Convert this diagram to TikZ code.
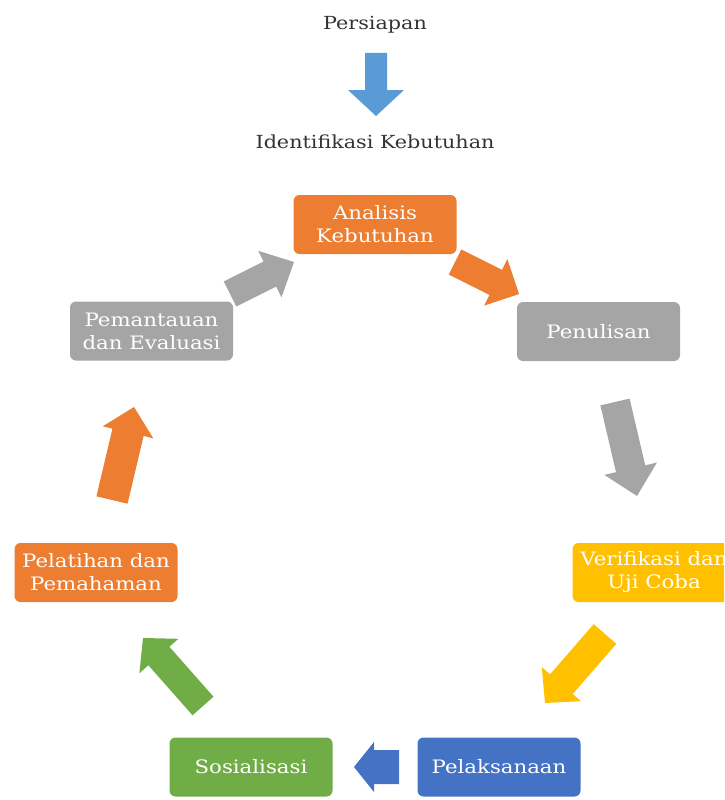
\documentclass[tikz,border=0pt]{standalone}
\usepackage{fontspec}
\setmainfont{DejaVu Serif}
\newfontfamily\boxfont[FakeStretch=1.15]{DejaVu Serif}
\usetikzlibrary{calc}
\definecolor{corange}{HTML}{ED7D31}
\definecolor{cgray}{HTML}{A5A5A5}
\definecolor{cyellow}{HTML}{FFC000}
\definecolor{cblue}{HTML}{4472C4}
\definecolor{cgreen}{HTML}{70AD47}
\definecolor{clblue}{HTML}{5B9BD5}
\definecolor{ctext}{HTML}{333333}
% #1 colour, #2 tail, #3 tip, #4 half shaft, #5 half head, #6 head length
\newcommand{\blkarrow}[6]{%
  \coordinate (hb) at ($(#3)!#6!(#2)$);
  \fill[#1] ($(#2)!#4!90:(#3)$) -- ($(hb)!#4!90:(#3)$) -- ($(hb)!#5!90:(#3)$) -- (#3)
    -- ($(hb)!#5!-90:(#3)$) -- ($(hb)!#4!-90:(#3)$) -- ($(#2)!#4!-90:(#3)$) -- cycle;}
\begin{document}
\begin{tikzpicture}[x=1pt,y=-1pt,
  box/.style={rounded corners=6pt, minimum width=163pt, minimum height=59pt, inner sep=0pt,
    align=center, text=white, font=\boxfont\fontsize{18.5}{23}\selectfont},
  toplabel/.style={text=ctext, font=\boxfont\fontsize{18}{22}\selectfont}]
\useasboundingbox (0,0) rectangle (724,800);
\clip (0,0) rectangle (724,800);
% labels
\node[toplabel] (prep) at (375,25) {Persiapan};
\node[toplabel] (iden) at (375,142) {Identifikasi Kebutuhan};
% boxes
\node[box, fill=corange] (ana) at (375,224.5) {Analisis\\Kebutuhan};
\node[box, fill=cgray] (pen) at (598.5,331.5) {Penulisan};
\node[box, fill=cyellow] (ver) at (654,572.5) {Verifikasi dan\\Uji Coba};
\node[box, fill=cblue] (pls) at (499,767) {Pelaksanaan};
\node[box, fill=cgreen] (sos) at (251,767) {Sosialisasi};
\node[box, fill=corange] (plt) at (96,572.5) {Pelatihan dan\\Pemahaman};
\node[box, fill=cgray] (pem) at (151.5,331) {Pemantauan\\dan Evaluasi};
% arrow end points
\coordinate (a0t) at (376,53);  \coordinate (a0h) at (376,116);
\coordinate (a1t) at (455,262); \coordinate (a1h) at (519,294);
\coordinate (a2t) at (615,402); \coordinate (a2h) at (637,496);
\coordinate (a3t) at (605,634); \coordinate (a3h) at (545,703);
\coordinate (a4t) at (399,767); \coordinate (a4h) at (354,767);
\coordinate (a5t) at (203,706); \coordinate (a5h) at (143,638);
\coordinate (a6t) at (112,500); \coordinate (a6h) at (134,407);
\coordinate (a7t) at (230,294); \coordinate (a7h) at (294,262);
% arrows
\blkarrow{clblue}{a0t}{a0h}{11pt}{28pt}{26pt}
\blkarrow{corange}{a1t}{a1h}{14pt}{26pt}{26pt}
\blkarrow{cgray}{a2t}{a2h}{15pt}{27pt}{28pt}
\blkarrow{cyellow}{a3t}{a3h}{15pt}{26pt}{25pt}
\blkarrow{cblue}{a4t}{a4h}{17pt}{25pt}{20pt}
\blkarrow{cgreen}{a5t}{a5h}{14pt}{26pt}{24pt}
\blkarrow{corange}{a6t}{a6h}{16pt}{26pt}{26pt}
\blkarrow{cgray}{a7t}{a7h}{14pt}{26pt}{27pt}
\end{tikzpicture}
\end{document}
